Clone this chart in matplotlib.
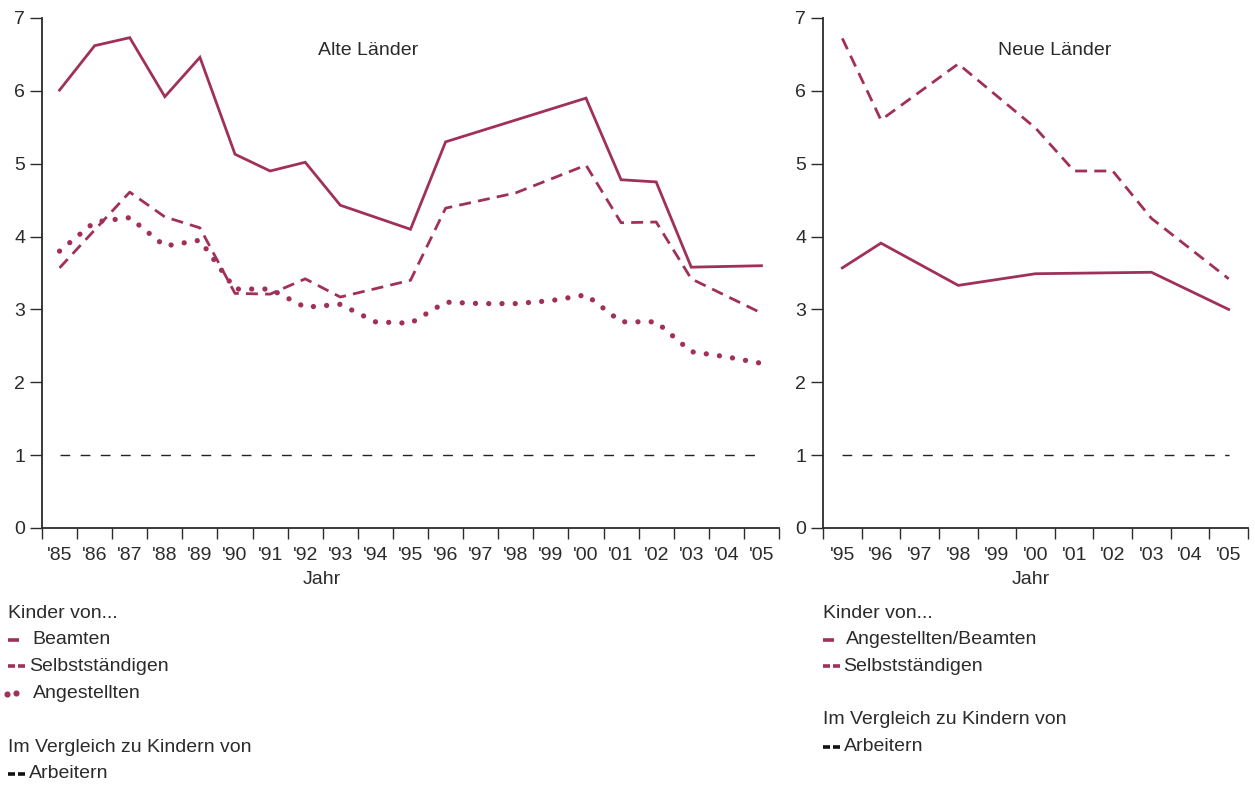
import matplotlib.pyplot as plt
from matplotlib.lines import Line2D
import numpy as np

plt.rcParams['font.family'] = ['Liberation Sans', 'DejaVu Sans']

RED = '#A0305A'
TXT = '#2b2b2b'
FS = 14

# --- data: Alte Länder (1985-2005), None = no value ---
years_alt = list(range(1985, 2006))
labels_alt = ["'85", "'86", "'87", "'88", "'89", "'90", "'91", "'92", "'93", "'94", "'95",
              "'96", "'97", "'98", "'99", "'00", "'01", "'02", "'03", "'04", "'05"]
beamten = [6.01, 6.62, 6.73, 5.92, 6.46, 5.13, 4.90, 5.02, 4.43, None, 4.10,
           5.30, None, None, None, 5.90, 4.78, 4.75, 3.58, None, 3.60]
selbst_alt = [3.57, None, 4.61, 4.27, 4.12, 3.22, 3.21, 3.42, 3.17, None, 3.40,
              4.39, None, 4.60, None, 4.98, 4.19, 4.20, 3.42, None, 2.95]
angestellte = [3.80, 4.20, 4.26, 3.87, 3.95, 3.28, 3.28, 3.03, 3.07, 2.83, 2.81,
               3.10, 3.08, 3.08, 3.12, 3.20, 2.83, 2.83, 2.42, 2.35, 2.26]

# --- data: Neue Länder (1995-2005) ---
years_neu = list(range(1995, 2006))
labels_neu = ["'95", "'96", "'97", "'98", "'99", "'00", "'01", "'02", "'03", "'04", "'05"]
ang_beamte_neu = [3.57, 3.91, None, 3.33, None, 3.49, None, None, 3.51, None, 3.00]
selbst_neu = [6.72, 5.60, None, 6.37, None, 5.49, 4.90, 4.90, 4.25, None, 3.42]

arbeiter_ref = 1

legend_alt = ['Beamten', 'Selbstständigen', 'Angestellten']
legend_neu = ['Angestellten/Beamten', 'Selbstständigen']


def pts(years, vals):
    xs = [y for y, v in zip(years, vals) if v is not None]
    vs = [v for v in vals if v is not None]
    return xs, vs


fig = plt.figure(figsize=(12.55, 7.85), dpi=100)
ax1 = fig.add_axes([42 / 1255, 1 - 528 / 785, 737 / 1255, 510 / 785])
ax2 = fig.add_axes([823 / 1255, 1 - 528 / 785, 425 / 1255, 510 / 785])

solid = dict(color=RED, lw=2.0, solid_joinstyle='miter')
dashed = dict(color=RED, lw=2.0, linestyle=(0, (4.3, 2.6)), dash_capstyle='butt')
dotted = dict(color=RED, lw=3.8, linestyle=(0, (0.01, 2.5)), dash_capstyle='round')

ax1.plot(*pts(years_alt, beamten), **solid)
ax1.plot(*pts(years_alt, selbst_alt), **dashed)
ax1.plot(*pts(years_alt, angestellte), **dotted)
ax1.plot([1985, 2005], [arbeiter_ref, arbeiter_ref], color='#222222', lw=1.0,
         linestyle=(0, (7, 7.5)))

ax2.plot(*pts(years_neu, ang_beamte_neu), **solid)
ax2.plot(*pts(years_neu, selbst_neu), **dashed)
ax2.plot([1995, 2005], [arbeiter_ref, arbeiter_ref], color='#222222', lw=1.0,
         linestyle=(0, (7, 7.5)))

for ax, yrs, labs in [(ax1, years_alt, labels_alt), (ax2, years_neu, labels_neu)]:
    ax.set_xlim(yrs[0] - 0.5, yrs[-1] + 0.5)
    ax.set_ylim(0, 7)
    ax.spines['top'].set_visible(False)
    ax.spines['right'].set_visible(False)
    for s in ['left', 'bottom']:
        ax.spines[s].set_color(TXT)
        ax.spines[s].set_linewidth(1.3)
    ax.set_yticks(range(0, 8))
    ax.tick_params(axis='y', length=9, width=1.0, color=TXT, labelsize=FS,
                   labelcolor=TXT, pad=3)
    ax.set_xticks(np.arange(yrs[0] - 0.5, yrs[-1] + 1, 1))
    ax.set_xticklabels([])
    ax.tick_params(axis='x', which='major', length=8, width=1.0, color=TXT)
    ax.set_xticks(yrs, minor=True)
    ax.set_xticklabels(labs, minor=True)
    ax.tick_params(axis='x', which='minor', length=0, labelsize=FS,
                   labelcolor=TXT, pad=14)
    ax.set_xlabel('Jahr', fontsize=FS, color=TXT)

ax1.xaxis.set_label_coords((322 - 42) / 737, -0.085)
ax2.xaxis.set_label_coords(0.49, -0.085)

ax1.text(0.442, 0.937, 'Alte Länder', transform=ax1.transAxes, ha='center',
         va='center', fontsize=FS, color=TXT)
ax2.text(0.544, 0.937, 'Neue Länder', transform=ax2.transAxes, ha='center',
         va='center', fontsize=FS, color=TXT)


def fx(px):
    return px / 1255


def fy(py):
    return 1 - py / 785


def dash_symbol(x0, y, color):
    # two short dashes, like the reference legend
    for a in (x0, x0 + 9.5):
        fig.add_artist(Line2D([fx(a), fx(a + 7)], [fy(y), fy(y)], color=color, lw=2.6,
                              solid_capstyle='butt'))


def legend_block(x0, items, styles, y_start, gap_y2):
    fig.text(fx(x0), fy(y_start), 'Kinder von...', fontsize=FS, color=TXT, va='center')
    y = y_start
    for label, (kind, tx) in zip(items, styles):
        y += 26.7
        if kind == 'solid':
            fig.add_artist(Line2D([fx(x0), fx(x0 + 11)], [fy(y), fy(y)], color=RED, lw=2.6,
                                  solid_capstyle='butt'))
        elif kind == 'dashed':
            dash_symbol(x0, y, RED)
        else:
            fig.add_artist(Line2D([fx(x0 - 1), fx(x0 + 8)], [fy(y + 1), fy(y)], color=RED,
                                  marker='o', markersize=3.4, linestyle='none'))
        fig.text(fx(tx), fy(y), label, fontsize=FS, color=TXT, va='center')
    y = gap_y2
    fig.text(fx(x0), fy(y), 'Im Vergleich zu Kindern von', fontsize=FS, color=TXT,
             va='center')
    y += 26.7
    dash_symbol(x0, y, '#111111')
    fig.text(fx(x0 + 21), fy(y), 'Arbeitern', fontsize=FS, color=TXT, va='center')


legend_block(8, legend_alt, [('solid', 32), ('dashed', 29), ('dotted', 33)], 613, 747)
legend_block(823, legend_neu, [('solid', 846), ('dashed', 843)], 613, 720)

fig.savefig('out.png', dpi=100, facecolor='white')
